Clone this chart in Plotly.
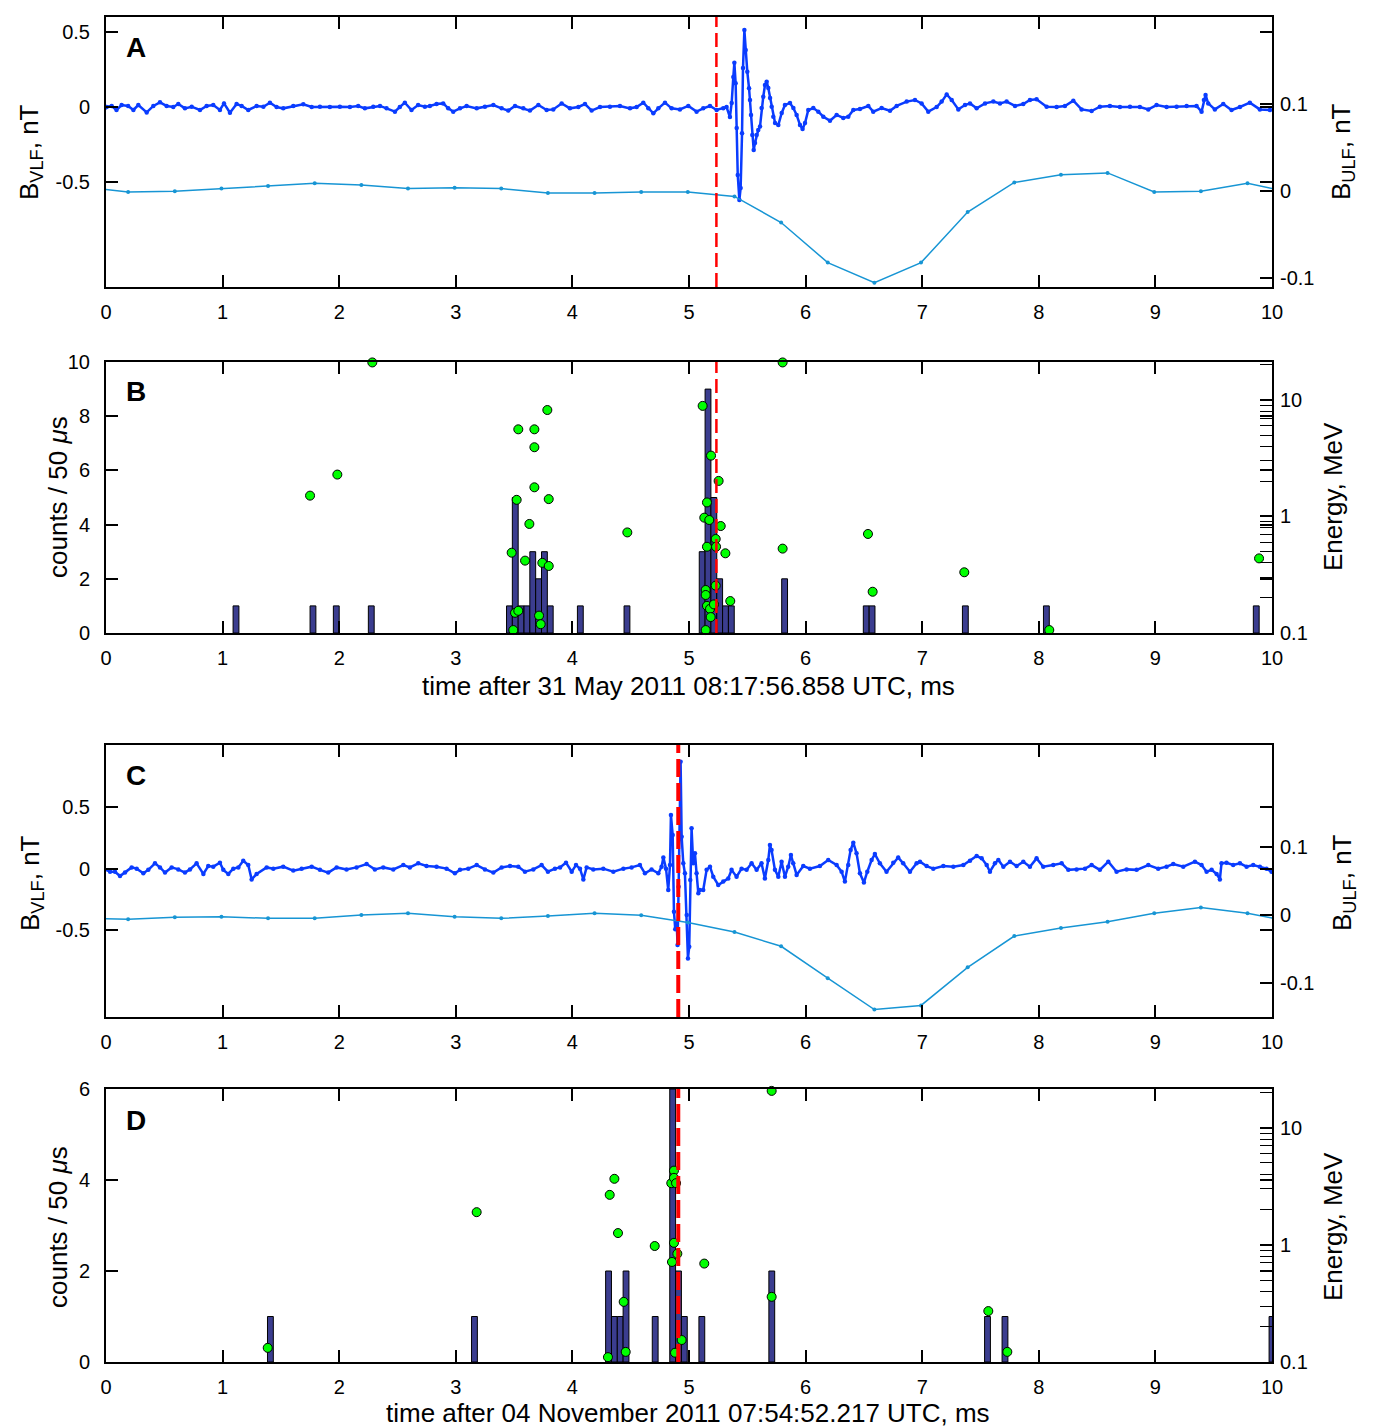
import plotly.graph_objects as go

W, H = 1373, 1428
OFF = 8  # page body margin of the html page

# ---------------- Panel A (31 May 2011) ----------------
vlf_a_t = [-0.065, -0.02, 0.006, 0.049, 0.09, 0.134, 0.19, 0.235, 0.277, 0.349, 0.406, 0.463, 0.52, 0.577, 0.62,
           0.677, 0.735, 0.806, 0.863, 0.92, 0.977, 1.012, 1.063, 1.12, 1.163, 1.22, 1.292, 1.35, 1.406, 1.463,
           1.52, 1.606, 1.692, 1.764, 1.835, 1.92, 2.006, 2.092, 2.163, 2.22, 2.292, 2.35, 2.406, 2.478, 2.52,
           2.563, 2.62, 2.677, 2.735, 2.778, 2.835, 2.892, 2.935, 2.978, 3.036, 3.093, 3.179, 3.25, 3.322, 3.393,
           3.45, 3.508, 3.579, 3.636, 3.708, 3.779, 3.836, 3.908, 3.979, 4.051, 4.108, 4.165, 4.237, 4.322, 4.408,
           4.494, 4.551, 4.608, 4.651, 4.694, 4.737, 4.794, 4.851, 4.922, 4.994, 5.065, 5.122, 5.18, 5.237, 5.294,
           5.322, 5.351, 5.366, 5.38, 5.389, 5.40, 5.409, 5.418, 5.432, 5.443, 5.455, 5.463, 5.475, 5.486, 5.5,
           5.515, 5.523, 5.532, 5.543, 5.555, 5.566, 5.58, 5.594, 5.609, 5.623, 5.637, 5.652, 5.666, 5.68, 5.695,
           5.709, 5.723, 5.738, 5.766, 5.795, 5.823, 5.866, 5.895, 5.923, 5.952, 5.974, 5.995, 6.023, 6.066, 6.109,
           6.152, 6.209, 6.266, 6.323, 6.366, 6.409, 6.466, 6.538, 6.58, 6.652, 6.724, 6.781, 6.867, 6.938, 6.995,
           7.052, 7.124, 7.167, 7.21, 7.253, 7.31, 7.367, 7.41, 7.467, 7.539, 7.61, 7.667, 7.724, 7.796, 7.867,
           7.924, 7.981, 8.067, 8.153, 8.224, 8.296, 8.367, 8.453, 8.524, 8.61, 8.696, 8.782, 8.867, 8.939, 9.01,
           9.096, 9.182, 9.268, 9.353, 9.396, 9.416, 9.43, 9.453, 9.51, 9.582, 9.653, 9.725, 9.81, 9.896, 9.982,
           10.06]
vlf_a_b = [-0.027, -0.027, 0.0, 0.007, -0.02, 0.013, 0.007, -0.02, 0.013, -0.036, 0.007, 0.031, 0.007, 0.0, 0.02,
           -0.009, 0.002, -0.02, 0.007, 0.013, -0.02, 0.024, -0.038, 0.02, 0.007, -0.02, 0.007, 0.002, 0.029, 0.0,
           -0.009, 0.007, 0.018, 0.0, 0.002, 0.0, 0.002, 0.0, 0.007, -0.009, 0.002, 0.007, -0.009, -0.031, 0.0,
           0.029, -0.02, 0.013, 0.002, 0.007, 0.02, 0.024, -0.009, -0.031, -0.009, 0.007, -0.009, 0.002, 0.013, -0.009,
           -0.024, 0.007, -0.009, -0.024, 0.013, -0.02, -0.016, 0.024, -0.009, 0.0, 0.02, -0.024, 0.0, 0.002, 0.007,
           -0.009, 0.0, 0.029, -0.009, -0.042, -0.009, 0.029, -0.009, -0.016, 0.007, -0.031, -0.009, 0.007, -0.02, -0.009,
           0.0, -0.067, 0.027, 0.2, 0.295, 0.158, -0.14, -0.453, -0.62, -0.54, -0.175, 0.26, 0.513, 0.38, 0.235,
           0.125, 0.047, -0.053, -0.187, -0.287, -0.24, -0.187, -0.153, -0.13, -0.007, 0.069, 0.147, 0.169, 0.127, 0.06,
           0.002, -0.065, -0.107, -0.12, -0.04, 0.013, 0.027, -0.007, -0.053, -0.12, -0.147, -0.107, -0.02, -0.007, -0.031,
           -0.065, -0.091, -0.053, -0.073, -0.065, -0.02, -0.013, 0.007, -0.031, -0.007, -0.025, 0.007, 0.036, 0.047, 0.024,
           -0.031, 0.0, 0.036, 0.084, 0.047, -0.016, 0.013, 0.024, -0.009, 0.024, 0.036, 0.024, 0.036, 0.007, 0.02,
           0.047, 0.051, 0.002, 0.0, 0.007, 0.042, -0.016, -0.027, 0.002, 0.007, 0.0, 0.002, 0.0, -0.016, 0.013,
           0.0, 0.002, 0.007, 0.007, -0.031, 0.047, 0.08, 0.024, -0.016, 0.02, -0.02, 0.0, 0.029, -0.016, -0.02,
           -0.016]
ulf_a_t = [-0.07, 0.19, 0.59, 0.99, 1.39, 1.79, 2.19, 2.59, 2.99, 3.39, 3.79, 4.19, 4.59, 4.99, 5.39, 5.79,
           6.19, 6.59, 6.99, 7.39, 7.79, 8.19, 8.59, 8.99, 9.39, 9.79, 10.06]
ulf_a_b = [0.003, -0.001, 0.0, 0.003, 0.006, 0.009, 0.007, 0.003, 0.004, 0.003, -0.002, -0.002, -0.001, -0.001,
           -0.006, -0.036, -0.082, -0.105, -0.082, -0.024, 0.010, 0.019, 0.021, -0.001, 0.0, 0.009, 0.0015]

# ---------------- Panel B (31 May 2011) ----------------
hist_b_t = [1.115, 1.775, 1.975, 2.275, 3.46, 3.51, 3.56, 3.61, 3.66, 3.71, 3.76, 3.81, 4.068, 4.468,
            5.113, 5.163, 5.213, 5.263, 5.313, 5.363, 5.82, 6.52, 6.57, 7.37, 8.065, 9.865]
hist_b_n = [1, 1, 1, 1, 1, 5, 1, 1, 3, 2, 3, 1, 1, 1, 3, 9, 5, 2, 1, 1, 2, 1, 1, 1, 1, 1]
energy_b_t = [1.75, 1.984, 2.284, 3.479, 3.493, 3.508, 3.522, 3.536, 3.536, 3.594, 3.631, 3.674, 3.674, 3.674,
              3.714, 3.728, 3.742, 3.785, 3.797, 3.797, 4.471, 5.117, 5.143, 5.143, 5.143, 5.131, 5.154, 5.154,
              5.154, 5.174, 5.18, 5.186, 5.189, 5.214, 5.229, 5.229, 5.232, 5.254, 5.272, 5.312, 5.354, 5.803,
              5.803, 6.535, 6.575, 7.361, 8.09, 9.889]
energy_b_e = [1.51, 2.29, 21.0, 0.489, 0.106, 0.149, 1.39, 0.155, 5.6, 0.418, 0.863, 5.6, 3.93, 1.78,
              0.141, 0.119, 0.40, 8.2, 1.41, 0.376, 0.73, 8.9, 0.106, 0.234, 0.212, 0.977, 1.32, 0.55,
              0.171, 0.933, 0.161, 0.137, 3.33, 0.176, 0.255, 0.641, 0.55, 2.02, 0.828, 0.483, 0.188, 21.0,
              0.53, 0.708, 0.226, 0.332, 0.106, 0.437]

# ---------------- Panel C (04 November 2011) ----------------
vlf_c_t = [-0.066, -0.02, 0.035, 0.077, 0.12, 0.163, 0.22, 0.263, 0.32, 0.363, 0.42, 0.463, 0.506, 0.563, 0.62,
           0.677, 0.72, 0.777, 0.835, 0.877, 0.92, 0.977, 1.006, 1.049, 1.092, 1.135, 1.177, 1.22, 1.249, 1.292,
           1.378, 1.435, 1.52, 1.606, 1.678, 1.764, 1.835, 1.906, 1.978, 2.063, 2.149, 2.235, 2.306, 2.378, 2.464,
           2.55, 2.606, 2.678, 2.749, 2.835, 2.921, 2.992, 3.036, 3.107, 3.179, 3.25, 3.322, 3.393, 3.465, 3.536,
           3.593, 3.665, 3.736, 3.79, 3.85, 3.894, 3.945, 3.994, 4.031, 4.065, 4.094, 4.122, 4.179, 4.265, 4.351,
           4.437, 4.508, 4.579, 4.622, 4.679, 4.737, 4.765, 4.78, 4.803, 4.822, 4.837, 4.845, 4.86, 4.871, 4.882,
           4.894, 4.902, 4.911, 4.92, 4.928, 4.937, 4.951, 4.965, 4.98, 4.991, 5.002, 5.011, 5.022, 5.036, 5.051,
           5.065, 5.08, 5.093, 5.122, 5.151, 5.18, 5.208, 5.251, 5.294, 5.337, 5.365, 5.408, 5.451, 5.494, 5.537,
           5.58, 5.622, 5.651, 5.68, 5.694, 5.708, 5.737, 5.766, 5.794, 5.823, 5.851, 5.874, 5.894, 5.923, 5.98,
           6.037, 6.123, 6.194, 6.266, 6.309, 6.337, 6.366, 6.386, 6.409, 6.437, 6.466, 6.5, 6.529, 6.566, 6.594,
           6.637, 6.694, 6.752, 6.794, 6.837, 6.895, 6.952, 6.981, 7.038, 7.095, 7.181, 7.267, 7.353, 7.41, 7.467,
           7.51, 7.553, 7.581, 7.624, 7.653, 7.696, 7.753, 7.81, 7.867, 7.924, 7.981, 8.038, 8.124, 8.196, 8.253,
           8.324, 8.396, 8.453, 8.524, 8.596, 8.667, 8.753, 8.839, 8.939, 9.024, 9.096, 9.153, 9.239, 9.339, 9.396,
           9.439, 9.482, 9.525, 9.553, 9.567, 9.61, 9.667, 9.725, 9.782, 9.839, 9.896, 9.953, 9.996, 10.04]
vlf_c_b = [-0.01, 0.0, -0.025, -0.025, -0.06, -0.032, 0.01, 0.0, -0.038, -0.01, 0.043, 0.01, -0.032, 0.01, -0.006,
           -0.032, -0.006, 0.043, -0.043, 0.021, 0.016, 0.048, -0.01, -0.043, 0.0, 0.01, 0.064, 0.029, -0.087, -0.043,
           0.01, 0.0, 0.016, -0.016, 0.0, 0.016, -0.01, -0.032, 0.01, -0.006, 0.01, 0.037, -0.006, 0.01, -0.006,
           0.029, 0.01, 0.043, 0.021, 0.016, 0.0, -0.038, -0.01, 0.0, 0.029, -0.006, -0.032, 0.01, 0.021, 0.016,
           -0.025, -0.006, 0.029, -0.025, 0.0, 0.01, 0.048, -0.025, 0.029, 0.0, -0.087, 0.01, -0.006, 0.0, -0.025,
           0.0, 0.01, 0.029, -0.038, -0.006, -0.038, 0.016, 0.091, 0.0, -0.173, 0.029, 0.434, 0.272, -0.348, -0.49,
           -0.43, -0.618, -0.146, 0.649, 0.865, 0.258, 0.043, -0.038, -0.375, -0.726, -0.632, -0.092, 0.326, 0.043, 0.124,
           -0.038, -0.2, -0.173, -0.173, -0.01, 0.016, -0.065, -0.132, -0.105, -0.079, -0.01, -0.065, 0.0, -0.01, 0.043,
           -0.01, 0.043, -0.079, 0.07, 0.191, 0.151, -0.01, -0.065, 0.056, -0.065, 0.016, 0.11, 0.043, -0.051, 0.021,
           0.0, 0.021, 0.07, 0.029, -0.025, -0.105, 0.029, 0.151, 0.21, 0.124, -0.038, -0.113, -0.025, 0.07, 0.118,
           0.043, -0.025, 0.048, 0.091, 0.043, -0.025, 0.043, 0.056, 0.021, 0.0, 0.021, 0.016, 0.029, 0.064, 0.102,
           0.083, 0.029, -0.025, 0.043, 0.07, 0.016, 0.056, 0.021, 0.056, 0.016, 0.083, 0.016, 0.029, 0.043, -0.01,
           -0.006, 0.0, 0.029, -0.01, 0.056, -0.025, -0.006, -0.01, 0.029, 0.0, 0.016, 0.037, 0.016, 0.056, 0.029,
           -0.025, -0.01, -0.043, -0.087, 0.043, 0.048, 0.029, 0.043, 0.016, 0.029, 0.016, 0.0, -0.025, 0.0]
ulf_c_t = [-0.07, 0.19, 0.59, 0.99, 1.39, 1.79, 2.19, 2.59, 2.99, 3.39, 3.79, 4.19, 4.59, 4.99, 5.39, 5.79,
           6.19, 6.59, 6.99, 7.39, 7.79, 8.19, 8.59, 8.99, 9.39, 9.79, 10.06]
ulf_c_b = [-0.005, -0.0064, -0.0034, -0.0025, -0.0049, -0.0049, 0.0, 0.0025, -0.0025, -0.0049, -0.0015, 0.0025,
           -0.0005, -0.011, -0.025, -0.046, -0.093, -0.139, -0.133, -0.077, -0.031, -0.019, -0.010, 0.0025, 0.011,
           0.0025, -0.0064]

# ---------------- Panel D (04 November 2011) ----------------
hist_d_t = [1.41, 3.16, 4.31, 4.36, 4.41, 4.46, 4.71, 4.86, 4.91, 4.96, 5.11, 5.71, 7.56, 7.71, 10.0]
hist_d_n = [1, 1, 2, 1, 1, 2, 1, 6, 2, 1, 1, 2, 1, 1, 1]
energy_d_t = [1.387, 3.179, 4.305, 4.32, 4.36, 4.391, 4.44, 4.457, 4.706, 4.854, 4.848, 4.871, 4.871, 4.889,
              4.871, 4.9, 4.88, 4.937, 5.131, 5.709, 5.709, 7.567, 7.73]
energy_d_e = [0.132, 1.9, 0.11, 2.67, 3.66, 1.26, 0.326, 0.122, 0.977, 0.714, 3.36, 4.3, 3.73, 3.36,
              1.04, 0.84, 0.12, 0.154, 0.692, 20.6, 0.36, 0.272, 0.122]

trigger_ab = 5.235
trigger_cd = 4.908

x_ticks = list(range(0, 11))
titles_x = ["time after 31 May 2011 08:17:56.858 UTC, ms", "time after 04 November 2011 07:54:52.217 UTC, ms"]

VLF_COL = "#0a3cff"
ULF_COL = "#1795d4"
BAR_COL = "#3b3d8f"

fig = go.Figure()

def vlf(t, b, ya):
    fig.add_trace(go.Scatter(x=t, y=b, mode="lines+markers", xaxis=ya[0], yaxis=ya[1],
                             line=dict(color=VLF_COL, width=2.5), marker=dict(color=VLF_COL, size=4.5),
                             showlegend=False))

def ulf(t, b, ya):
    fig.add_trace(go.Scatter(x=t, y=b, mode="lines+markers", xaxis=ya[0], yaxis=ya[1],
                             line=dict(color=ULF_COL, width=1.5), marker=dict(color=ULF_COL, size=4),
                             showlegend=False))

def hist(t, n, ya):
    fig.add_trace(go.Bar(x=t, y=n, width=0.05, xaxis=ya[0], yaxis=ya[1],
                         marker=dict(color=BAR_COL, line=dict(color="black", width=1)), showlegend=False))

def energy(t, e, ya):
    fig.add_trace(go.Scatter(x=t, y=e, mode="markers", xaxis=ya[0], yaxis=ya[1], cliponaxis=False,
                             marker=dict(color="#00ff00", size=9, line=dict(color="black", width=1)),
                             showlegend=False))

vlf(vlf_a_t, vlf_a_b, ("x", "y"))
ulf(ulf_a_t, ulf_a_b, ("x", "y2"))
hist(hist_b_t, hist_b_n, ("x2", "y3"))
energy(energy_b_t, energy_b_e, ("x2", "y4"))
vlf(vlf_c_t, vlf_c_b, ("x3", "y5"))
ulf(ulf_c_t, ulf_c_b, ("x3", "y6"))
hist(hist_d_t, hist_d_n, ("x4", "y7"))
energy(energy_d_t, energy_d_e, ("x4", "y8"))

def py(y):
    return 1 - (y - OFF) / H

def px(x):
    return (x - OFF) / W

xdom = [px(106), px(1272)]
panels = {"A": (17, 287), "B": (362, 633), "C": (745, 1017), "D": (1089, 1362)}

FONT = "Liberation Sans, Arial, Helvetica, sans-serif"
tickfont = dict(family=FONT, size=20, color="black")

def xaxis_cfg(anchor):
    return dict(domain=xdom, anchor=anchor, range=[0, 10], tickvals=x_ticks, automargin=False,
                ticktext=[str(v) for v in x_ticks], ticks="inside", ticklen=12, tickwidth=1.5,
                tickcolor="black", showline=True, linecolor="black", linewidth=2, mirror="ticks",
                showgrid=False, zeroline=False, tickfont=tickfont, ticklabelstandoff=6)

def yleft(dom, rng, vals, texts):
    return dict(domain=dom, range=rng, tickvals=vals, ticktext=texts, ticks="inside", ticklen=12,
                tickwidth=1.5, tickcolor="black", showline=True, linecolor="black", linewidth=2,
                automargin=False, mirror="ticks", showgrid=False, zeroline=False, tickfont=tickfont,
                ticklabelstandoff=10)

def yright_lin(over, anchor, rng, vals, texts):
    return dict(overlaying=over, anchor=anchor, side="right", range=rng, tickvals=vals, ticktext=texts,
                ticks="inside", ticklen=12, tickwidth=1.5, tickcolor="black", showline=False,
                automargin=False, showgrid=False, zeroline=False, tickfont=tickfont, ticklabelstandoff=7)

def yright_log(over, anchor, top):
    return dict(overlaying=over, anchor=anchor, side="right", type="log", range=[-1, top],
                tickmode="array", tickvals=[0.1, 1, 10], ticktext=["0.1", "1", "10"], automargin=False,
                ticks="inside", ticklen=12, tickwidth=1.5, tickcolor="black", showline=False,
                showgrid=False, zeroline=False, tickfont=tickfont, ticklabelstandoff=7,
                minor=dict(ticks="inside", ticklen=12, tickwidth=1, tickcolor="black",
                           tickvals=[v * m for v in (0.1, 1, 10) for m in range(2, 10)], showgrid=False))

def dom(p):
    top, bot = panels[p]
    return [py(bot), py(top)]

fig.update_layout(
    width=W, height=H, margin=dict(l=0, r=0, t=0, b=0, pad=0, autoexpand=False),
    paper_bgcolor="white", plot_bgcolor="white", barmode="overlay",
    xaxis=xaxis_cfg("y"), xaxis2=xaxis_cfg("y3"), xaxis3=xaxis_cfg("y5"), xaxis4=xaxis_cfg("y7"),
    yaxis=yleft(dom("A"), [-1.2, 0.6], [-0.5, 0, 0.5], ["-0.5", "0", "0.5"]),
    yaxis2=yright_lin("y", "x", [-0.11, 0.2], [-0.1, 0, 0.1], ["-0.1", "0", "0.1"]),
    yaxis3=yleft(dom("B"), [0, 10], [0, 2, 4, 6, 8, 10], ["0", "2", "4", "6", "8", "10"]),
    yaxis4=yright_log("y3", "x2", 1.326),
    yaxis5=yleft(dom("C"), [-1.2, 1.0], [-0.5, 0, 0.5], ["-0.5", "0", "0.5"]),
    yaxis6=yright_lin("y5", "x3", [-0.15, 0.25], [-0.1, 0, 0.1], ["-0.1", "0", "0.1"]),
    yaxis7=yleft(dom("D"), [0, 6], [0, 2, 4, 6], ["0", "2", "4", "6"]),
    yaxis8=yright_log("y7", "x4", 1.33),
)

# trigger lines
fig.add_shape(type="line", xref="x", yref="y domain", x0=trigger_ab, x1=trigger_ab, y0=0, y1=1,
              line=dict(color="red", width=2.5, dash="14px,6px"))
fig.add_shape(type="line", xref="x2", yref="y3 domain", x0=trigger_ab, x1=trigger_ab, y0=0, y1=1,
              line=dict(color="red", width=2.5, dash="14px,6px"))
fig.add_shape(type="line", xref="x3", yref="y5 domain", x0=trigger_cd, x1=trigger_cd, y0=0, y1=1,
              line=dict(color="red", width=4, dash="18px,6px"))
fig.add_shape(type="line", xref="x4", yref="y7 domain", x0=trigger_cd, x1=trigger_cd, y0=0, y1=1,
              line=dict(color="red", width=4, dash="18px,6px"))

tfont = dict(family=FONT, size=26, color="black")

def note(text, x, y, angle=0, font=tfont):
    return dict(text=text, x=px(x), y=py(y), xref="paper", yref="paper", xanchor="center",
                yanchor="middle", textangle=angle, showarrow=False, font=font)

ann = []
for lab, yy in (("A", 47), ("B", 392), ("C", 775), ("D", 1120)):
    ann.append(note("<b>%s</b>" % lab, 136, yy, font=dict(family=FONT, size=28, color="black")))
for yy in (152, 883):
    ann.append(note("B<sub>VLF</sub>, nT", 31, yy, -90))
    ann.append(note("B<sub>ULF</sub>, nT", 1343, yy, -90))
for yy in (497, 1227):
    ann.append(note("counts / 50 <i>μ</i>s", 58, yy, -90))
    ann.append(note("Energy, MeV", 1333, yy, -90))
ann.append(note(titles_x[0], 688, 686))
ann.append(note(titles_x[1], 688, 1413))
fig.update_layout(annotations=ann)

fig.write_html("out.html")
